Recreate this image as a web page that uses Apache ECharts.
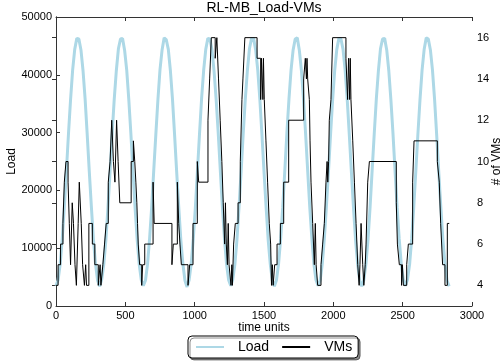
<!DOCTYPE html>
<html>
<head>
<meta charset="utf-8">
<script src="https://cdn.jsdelivr.net/npm/echarts@6/dist/echarts.min.js"></script>
<style>
  html, body { margin: 0; padding: 0; background: #fff; }
  #chart { width: 504px; height: 364px; }
</style>
</head>
<body>
<div id="chart"></div>
<script>
// load samples, one every loadStep time units
var loadStep = 15;
var loadValues = [
  3500, 4500, 7200, 11600, 17100, 23400, 29800, 35700, 40800, 44400, 46300, 46200, 44300, 40700, 35800, 29700, 23300, 17200, 11500, 7300, 4400,
  3400, 4600, 7300, 11500, 17200, 23300, 29900, 35800, 40700, 44500, 46200, 46300, 44200, 40800, 35700, 29800, 23400, 17100, 11600, 7200, 4500,
  3500, 4400, 7200, 11700, 17100, 23500, 29700, 35700, 40900, 44300, 46400, 46100, 44400, 40700, 35800, 29700, 23300, 17200, 11500, 7300, 4400,
  3300, 4500, 7300, 11600, 17000, 23400, 29800, 35900, 40800, 44400, 46300, 46200, 44300, 40600, 35700, 29900, 23400, 17100, 11600, 7200, 4500,
  3500, 4600, 7200, 11500, 17200, 23300, 29800, 35700, 40700, 44500, 46300, 46300, 44300, 40800, 35800, 29700, 23300, 17200, 11500, 7300, 4400,
  3400, 4500, 7300, 11600, 17100, 23400, 29900, 35800, 40800, 44300, 46200, 46400, 44200, 40700, 35700, 29800, 23400, 17100, 11700, 7200, 4500,
  3500, 4400, 7200, 11600, 17200, 23300, 29700, 35700, 40800, 44400, 46300, 46200, 44400, 40800, 35800, 29700, 23300, 17200, 11500, 7300, 4400,
  3400, 4500, 7300, 11500, 17100, 23500, 29800, 35800, 40700, 44500, 46200, 46300, 44300, 40700, 35700, 29900, 23400, 17100, 11600, 7200, 4500,
  3500, 4600, 7200, 11600, 17100, 23400, 29800, 35700, 40800, 44400, 46400, 46200, 44300, 40800, 35800, 29700, 23300, 17200, 11500, 7300, 4400,
  3400
];

// VMs: time of each change and the count from that time on
var vmTimes = [
  0, 15, 33, 50, 60, 72, 87, 96, 105, 117, 126, 137, 147, 160, 168, 182, 192, 205, 214, 220,
  237, 262, 280, 305, 318, 324, 338, 350, 362, 377, 390, 402, 414, 425, 437, 448, 460, 542, 558, 568,
  576, 583, 588, 593, 603, 618, 625, 640, 700, 708, 836, 846, 875, 885, 894, 904, 952, 964, 988, 1019,
  1029, 1096, 1108, 1120, 1148, 1160, 1172, 1184, 1196, 1206, 1216, 1222, 1228, 1236, 1242, 1248, 1262, 1268, 1272, 1281,
  1293, 1313, 1329, 1341, 1348, 1362, 1450, 1476, 1482, 1492, 1496, 1502, 1514, 1526, 1538, 1548, 1554, 1560, 1566, 1577,
  1594, 1618, 1642, 1678, 1786, 1798, 1806, 1810, 1815, 1827, 1832, 1839, 1851, 1863, 1870, 1876, 1887, 1911, 1923, 1935,
  1947, 1955, 1960, 1966, 1971, 1983, 1995, 2091, 2103, 2110, 2118, 2122, 2127, 2140, 2152, 2164, 2176, 2186, 2192, 2200,
  2212, 2220, 2230, 2236, 2248, 2260, 2454, 2462, 2476, 2492, 2498, 2505, 2529, 2541, 2572, 2582, 2750, 2764, 2774, 2788,
  2805, 2822, 2836
];
var vmCounts = [
  4, 5, 6, 7, 9, 10, 9, 7, 5, 8, 7, 5, 4, 7, 9, 7, 5, 4, 5, 4,
  7, 6, 5, 4, 5, 4, 5, 6, 7, 9, 10, 12, 10, 9, 12, 10, 8, 10, 11, 10,
  9, 8, 7, 6, 5, 4, 5, 6, 9, 7, 5, 6, 9, 7, 6, 5, 4, 5, 7, 10,
  9, 12, 14, 16, 15, 16, 14, 12, 10, 8, 6, 8, 6, 5, 7, 5, 4, 5, 4, 6,
  7, 8, 10, 13, 14, 16, 15, 13, 15, 13, 15, 13, 11, 9, 7, 6, 4, 5, 4, 5,
  6, 7, 9, 12, 14, 15, 14, 15, 14, 13, 11, 9, 7, 5, 7, 5, 4, 5, 6, 7,
  9, 10, 9, 10, 12, 13, 16, 15, 13, 15, 13, 15, 13, 11, 9, 7, 5, 4, 5, 7,
  5, 4, 5, 6, 9, 10, 8, 6, 5, 4, 5, 4, 5, 6, 9, 11, 10, 9, 7, 5,
  4, 7, 7
];

var vmTicks = [4, 6, 8, 10, 12, 14, 16];

var font = 'Liberation Sans, Arial, sans-serif';
var frameColor = '#333';

var loadData = [];
for (var i = 0; i < loadValues.length; i++) {
  loadData.push([i * loadStep, loadValues[i]]);
}
var vmData = [];
for (var j = 0; j < vmTimes.length; j++) {
  vmData.push([vmTimes[j], vmCounts[j]]);
}

// plain numbers, no thousands separator
function plain(v) {
  return String(v);
}

var chart = echarts.init(document.getElementById('chart'), null, {renderer: 'canvas'});

chart.setOption({
  animation: false,
  backgroundColor: '#fff',
  textStyle: {fontFamily: font},
  title: {
    text: 'RL-MB_Load-VMs',
    left: 264,
    top: 1,
    padding: 0,
    textAlign: 'center',
    textStyle: {fontFamily: font, fontSize: 14, fontWeight: 'normal', color: '#000'}
  },
  grid: {left: 56, right: 32, top: 17, bottom: 58, containLabel: false, outerBoundsMode: 'none'},
  legend: {
    left: 188,
    top: 336,
    padding: [4, 6, 4, 8],
    itemWidth: 28,
    itemHeight: 2,
    itemGap: 13,
    backgroundColor: '#fff',
    borderColor: '#000',
    borderWidth: 1,
    borderRadius: 4,
    shadowColor: 'rgba(0,0,0,0.45)',
    shadowOffsetX: 2,
    shadowOffsetY: 2,
    shadowBlur: 0,
    textStyle: {fontFamily: font, fontSize: 14, color: '#000', padding: [0, 0, 0, 9]},
    data: [{name: 'Load', icon: 'rect'}, {name: 'VMs', icon: 'rect'}]
  },
  xAxis: [
    {
      type: 'value',
      min: 0,
      max: 3000,
      interval: 500,
      position: 'bottom',
      name: 'time units',
      nameLocation: 'middle',
      nameGap: 16,
      nameMoveOverlap: false,
      nameTextStyle: {fontFamily: font, fontSize: 12, color: '#000'},
      axisLine: {show: true, lineStyle: {color: frameColor, width: 1}},
      axisTick: {show: true, inside: true, length: 4, lineStyle: {color: frameColor}},
      axisLabel: {color: '#000', fontSize: 11, margin: 4, fontFamily: font, formatter: plain},
      splitLine: {show: false}
    },
    {
      type: 'value',
      min: 0,
      max: 3000,
      interval: 500,
      position: 'top',
      axisLine: {show: true, lineStyle: {color: frameColor, width: 1}},
      axisTick: {show: true, inside: true, length: 4, lineStyle: {color: frameColor}},
      axisLabel: {show: false},
      splitLine: {show: false}
    }
  ],
  yAxis: [
    {
      type: 'value',
      min: 0,
      max: 50000,
      interval: 10000,
      position: 'left',
      name: 'Load',
      nameLocation: 'middle',
      nameRotate: 90,
      nameGap: 38,
      nameMoveOverlap: false,
      nameTextStyle: {fontFamily: font, fontSize: 12, color: '#000'},
      axisLine: {show: true, lineStyle: {color: frameColor, width: 1}},
      axisTick: {show: true, inside: true, length: 4, lineStyle: {color: frameColor}},
      axisLabel: {color: '#000', fontSize: 11, margin: 4, fontFamily: font, formatter: plain},
      splitLine: {show: false}
    },
    {
      type: 'value',
      min: 3,
      max: 17,
      position: 'right',
      name: '# of VMs',
      nameLocation: 'middle',
      nameRotate: 90,
      nameGap: 19,
      nameMoveOverlap: false,
      nameTextStyle: {fontFamily: font, fontSize: 12, color: '#000'},
      axisLine: {show: true, lineStyle: {color: frameColor, width: 1}},
      axisTick: {show: true, inside: true, length: 4, customValues: vmTicks, lineStyle: {color: frameColor}},
      axisLabel: {color: '#000', fontSize: 11, margin: 5, customValues: vmTicks, fontFamily: font, formatter: plain},
      splitLine: {show: false}
    }
  ],
  series: [
    {
      name: 'Load',
      type: 'line',
      xAxisIndex: 0,
      yAxisIndex: 0,
      data: loadData,
      showSymbol: false,
      symbol: 'none',
      color: '#add8e6',
      lineStyle: {color: '#add8e6', width: 3},
      z: 2
    },
    {
      name: 'VMs',
      type: 'line',
      xAxisIndex: 0,
      yAxisIndex: 1,
      step: 'end',
      data: vmData,
      showSymbol: false,
      symbol: 'none',
      color: '#000',
      lineStyle: {color: '#000', width: 1},
      z: 3
    }
  ]
});
</script>
</body>
</html>
